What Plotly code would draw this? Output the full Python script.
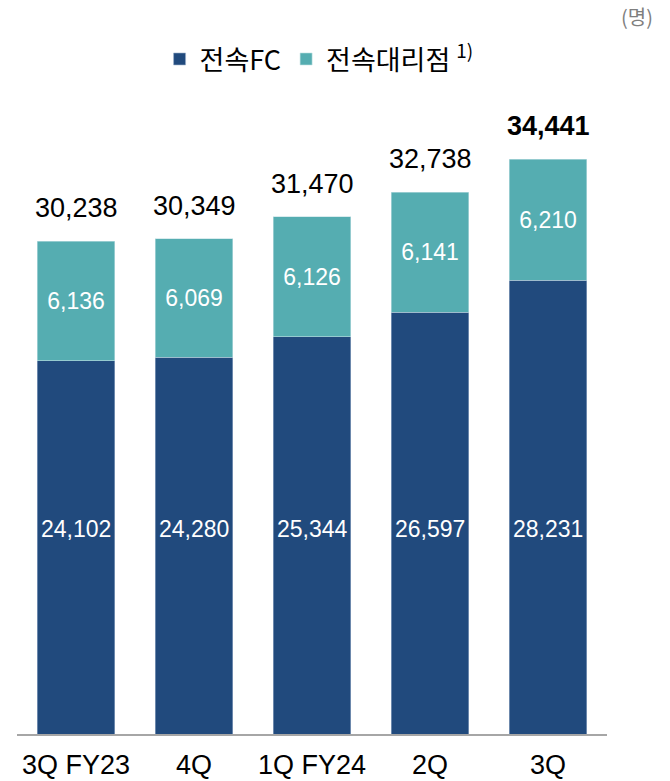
import plotly.graph_objects as go

categories = ["3Q FY23", "4Q", "1Q FY24", "2Q", "3Q"]
fc_values = [24102, 24280, 25344, 26597, 28231]
agency_values = [6136, 6069, 6126, 6141, 6210]
totals = [30238, 30349, 31470, 32738, 34441]
series_names = ["전속FC", "전속대리점 <sup>1)</sup>"]
unit_label = "(명)"

DARK = "#214A7D"
TEAL = "#55ADB1"
NUM_FONT = "Liberation Sans, Arial, sans-serif"
KR_FONT = "Noto Sans CJK KR, sans-serif"

fig = go.Figure()
fig.add_trace(go.Bar(
    x=categories, y=fc_values, name=series_names[0],
    marker=dict(color=DARK, line=dict(color="#9FB3CC", width=0.6)),
    textposition="none", hoverinfo="skip",
))
fig.add_trace(go.Bar(
    x=categories, y=agency_values, name=series_names[1],
    marker=dict(color=TEAL, line=dict(color="#BFE0E2", width=0.6)),
    text=[f"{v:,}" for v in agency_values],
    textposition="inside", insidetextanchor="middle", textangle=0,
    textfont=dict(family=NUM_FONT, size=23, color="white"),
    hoverinfo="skip",
))

annotations = []
for i, (c, t) in enumerate(zip(categories, totals)):
    label = f"{t:,}"
    if i == len(categories) - 1:
        label = f"<b>{label}</b>"
    annotations.append(dict(
        x=c, y=t, xref="x", yref="y", text=label, showarrow=False,
        yanchor="middle", yshift=33,
        font=dict(family=NUM_FONT, size=27, color="black"),
    ))
for c, v in zip(categories, fc_values):
    annotations.append(dict(
        x=c, y=0.3233, xref="x", yref="paper", text=f"{v:,}", showarrow=False,
        yanchor="middle",
        font=dict(family=NUM_FONT, size=23, color="white"),
    ))
annotations.append(dict(
    x=1.0508, y=1.131, xref="paper", yref="paper", text=unit_label,
    showarrow=False, xanchor="center", yanchor="middle",
    font=dict(family=KR_FONT, size=20, color="#7F7F7F"),
))

fig.update_layout(
    width=670, height=781,
    margin=dict(l=17, r=63, t=100, b=47, autoexpand=False),
    barmode="stack", bargap=0.34,
    plot_bgcolor="white", paper_bgcolor="white",
    showlegend=True,
    legend=dict(
        orientation="h", x=0.512, xanchor="center", y=1.064, yanchor="middle",
        font=dict(family=KR_FONT, size=27, color="black"),
        traceorder="normal", itemclick=False, itemdoubleclick=False,
        itemwidth=30,
    ),
    annotations=annotations,
    xaxis=dict(
        showline=True, linecolor="#A6A6A6", linewidth=2,
        ticks="", showgrid=False, zeroline=False, automargin=False,
        tickfont=dict(family=NUM_FONT, size=27, color="black"),
        ticklabelstandoff=6,
    ),
    yaxis=dict(
        range=[4970, 37466], visible=False, showgrid=False, zeroline=False,
        automargin=False,
    ),
)

fig.write_html(
    "out.html",
    config={"displayModeBar": False, "staticPlot": True},
    post_script="document.body.style.margin='0';document.body.style.overflow='hidden';",
)
